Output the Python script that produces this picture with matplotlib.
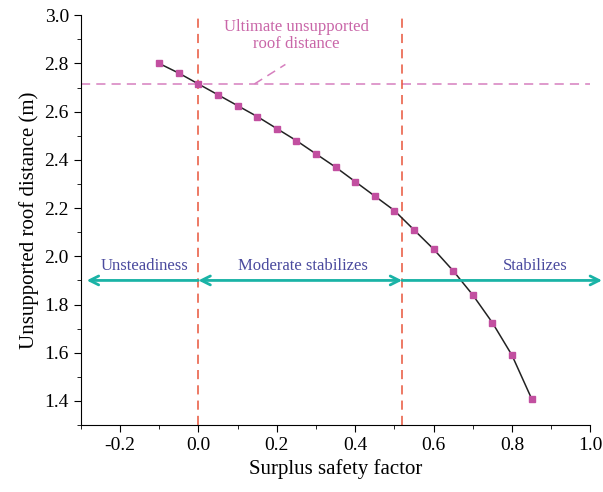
import matplotlib.pyplot as plt
from matplotlib.ticker import MultipleLocator

plt.rcParams['font.family'] = ['Liberation Serif', 'DejaVu Serif']

# surplus safety factor vs unsupported roof distance
safety = [-0.10, -0.05, 0.00, 0.05, 0.10, 0.15, 0.20, 0.25, 0.30, 0.35,
          0.40, 0.45, 0.50, 0.55, 0.60, 0.65, 0.70, 0.75, 0.80, 0.85]
distance = [2.80, 2.76, 2.715, 2.67, 2.625, 2.58, 2.53, 2.48, 2.425, 2.37,
            2.31, 2.25, 2.19, 2.11, 2.03, 1.94, 1.84, 1.725, 1.59, 1.41]

limit_distance = 2.715
boundaries = [0.0, 0.52]
zone_names = ['Unsteadiness', 'Moderate stabilizes', 'Stabilizes']

red = '#E8553A'
pink = '#C24FA0'
teal = '#1AB3A6'
label_col = '#4A4A9E'

fig = plt.figure(figsize=(6.03, 4.92), dpi=100)
ax = fig.add_axes([0.134, 0.136, 0.845, 0.833])

ax.plot(safety, distance, color='#222222', lw=1.1, zorder=3)
ax.plot(safety, distance, ls='none', marker='s', ms=5, color=pink, zorder=4)

ax.axhline(limit_distance, color='#D67FBE', ls=(0, (6, 4)), lw=1.1, zorder=2)
for b in boundaries:
    ax.axvline(b, color=red, ls=(0, (6, 4)), lw=1.1, zorder=2)

# zone arrows
arrow_y = 1.9
arr = dict(color=teal, lw=2, mutation_scale=16, shrinkA=0, shrinkB=0)
ax.annotate('', xy=(-0.285, arrow_y), xytext=(0.0, arrow_y),
            arrowprops=dict(arrowstyle='->', **arr))
ax.annotate('', xy=(0.0, arrow_y), xytext=(0.52, arrow_y),
            arrowprops=dict(arrowstyle='<->', **arr))
ax.annotate('', xy=(1.03, arrow_y), xytext=(0.52, arrow_y),
            arrowprops=dict(arrowstyle='->', **arr),
            annotation_clip=False)

ax.text(-0.138, 1.96, zone_names[0], color=label_col, fontsize=12, ha='center', va='center')
ax.text(0.266, 1.96, zone_names[1], color=label_col, fontsize=12, ha='center', va='center')
ax.text(0.86, 1.96, zone_names[2], color=label_col, fontsize=12, ha='center', va='center')

ax.text(0.25, 2.915, 'Ultimate unsupported\nroof distance', color='#C966A8',
        fontsize=12, ha='center', va='center', linespacing=1.1)
ax.plot([0.143, 0.222], [2.715, 2.796], color='#D67FBE', ls=(0, (6, 4)), lw=1.1)

ax.set_xlim(-0.3, 1.0)
ax.set_ylim(1.3, 3.0)
ax.xaxis.set_minor_locator(MultipleLocator(0.1))
ax.yaxis.set_minor_locator(MultipleLocator(0.1))
ax.set_xticks([-0.2, 0.0, 0.2, 0.4, 0.6, 0.8, 1.0])
ax.set_xticklabels(['-0.2', '0.0', '0.2', '0.4', '0.6', '0.8', '1.0'])
ax.set_yticks([1.4, 1.6, 1.8, 2.0, 2.2, 2.4, 2.6, 2.8, 3.0])
ax.set_yticklabels(['1.4', '1.6', '1.8', '2.0', '2.2', '2.4', '2.6', '2.8', '3.0'])
ax.tick_params(which='major', length=5, labelsize=14)
ax.tick_params(which='minor', length=3)

ax.spines['top'].set_visible(False)
ax.spines['right'].set_visible(False)

ax.set_xlabel('Surplus safety factor', fontsize=15)
ax.set_ylabel('Unsupported roof distance (m)', fontsize=15)

fig.savefig('out.png')
